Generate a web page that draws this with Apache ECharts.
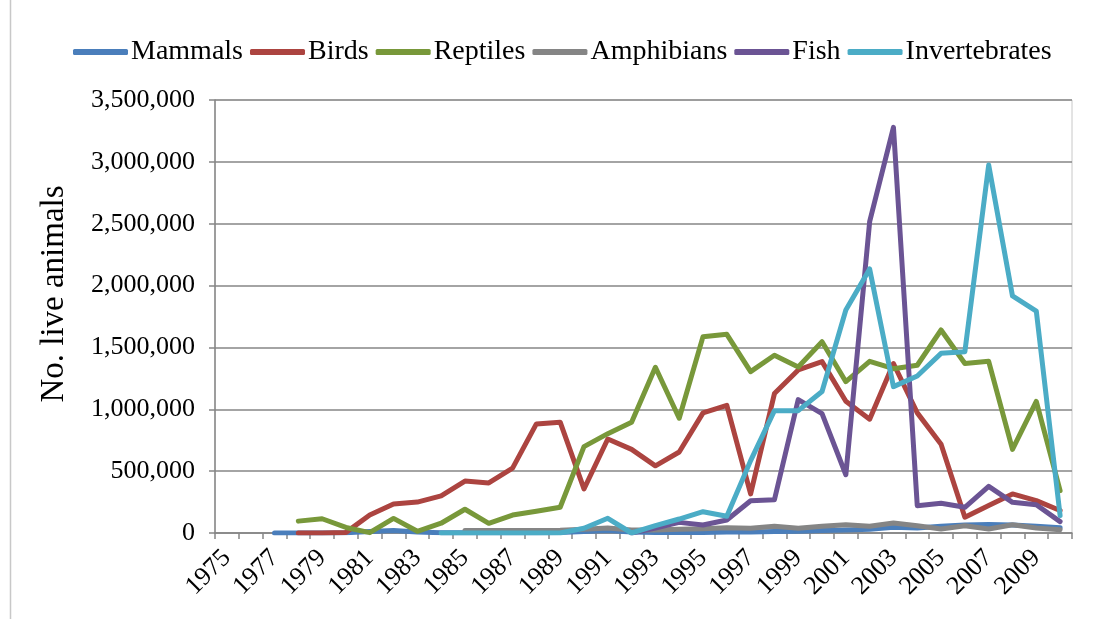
<!DOCTYPE html>
<html>
<head>
<meta charset="utf-8">
<script src="https://cdn.jsdelivr.net/npm/echarts@6/dist/echarts.min.js"></script>
<style>
html,body{margin:0;padding:0;background:#fff;}
#main{width:1098px;height:619px;}
</style>
</head>
<body>
<div id="main"></div>
<script>
var years = [];
for (var y = 1975; y <= 2010; y++) years.push(String(y));

var mammals = [null,null,0,0,0,3000,12000,20000,8000,2000,3000,2000,3000,3000,5000,12000,20000,8000,5000,5000,5000,8000,8000,13000,15000,20000,25000,30000,46000,40000,55000,65000,68000,65000,55000,42000];
var birds = [null,null,null,0,0,5000,145000,235000,250000,300000,420000,405000,524000,882000,896000,356000,760000,676000,543000,655000,971000,1032000,316000,1127000,1318000,1385000,1065000,920000,1370000,971000,717000,128000,222000,316000,262000,182000];
var reptiles = [null,null,null,96000,115000,45000,3000,118000,14000,79000,192000,78000,145000,176000,208000,698000,803000,895000,1340000,928000,1587000,1606000,1304000,1437000,1342000,1546000,1223000,1388000,1328000,1356000,1641000,1370000,1388000,676000,1064000,342000];
var amphibians = [null,null,null,null,null,null,null,null,null,null,20000,20000,20000,20000,22000,30000,40000,25000,25000,30000,35000,42000,38000,54000,38000,54000,67000,54000,81000,59000,32000,59000,32000,67000,40000,27000];
var fish = [null,null,null,null,null,null,null,null,null,null,null,null,null,null,null,null,null,0,40000,86000,65000,105000,261000,269000,1078000,965000,471000,2516000,3279000,221000,240000,208000,377000,248000,229000,92000];
var invertebrates = [null,null,null,null,null,null,null,null,null,0,0,0,0,0,0,38000,119000,0,59000,113000,172000,135000,585000,989000,989000,1144000,1802000,2134000,1183000,1269000,1452000,1466000,2975000,1916000,1794000,142000];

var seriesNames = ['Mammals','Birds','Reptiles','Amphibians','Fish','Invertebrates'];
var seriesData = [mammals, birds, reptiles, amphibians, fish, invertebrates];
var colors = ['#4A7EBB','#AC4440','#78983A','#858585','#6B5494','#4BACC6'];

var FONT = '"Liberation Serif", "DejaVu Serif", serif';

var chart = echarts.init(document.getElementById('main'), null, {renderer:'canvas'});
var series = seriesNames.map(function(n, i){
  return {
    name: n,
    type: 'line',
    data: seriesData[i],
    showSymbol: false,
    symbol: 'none',
    connectNulls: false,
    animation: false,
    lineStyle: {width: 5, color: colors[i], cap: 'round', join: 'round'},
    itemStyle: {color: colors[i]}
  };
});

chart.setOption({
  animation: false,
  color: colors,
  grid: {left: 215, right: 26, top: 100, bottom: 86, show: true, borderColor: '#C8C8C8', borderWidth: 1},
  legend: {
    data: seriesNames,
    top: 33,
    left: 68,
    itemWidth: 55,
    itemHeight: 6,
    itemGap: 7,
    icon: 'roundRect',
    textStyle: {fontFamily: FONT, fontSize: 28, color: '#000', padding: [0,0,0,-2]}
  },
  xAxis: {
    type: 'category',
    data: years,
    boundaryGap: true,
    axisLine: {lineStyle: {color: '#868686', width: 1.5}},
    axisTick: {show: true, interval: 0, length: 6, lineStyle: {color: '#868686', width: 1.5}},
    axisLabel: {interval: 1, rotate: 45, margin: 21, fontFamily: FONT, fontSize: 26, color: '#000'},
    splitLine: {show: false}
  },
  yAxis: {
    type: 'value',
    min: 0,
    max: 3500000,
    interval: 500000,
    axisLine: {show: true, lineStyle: {color: '#868686', width: 1.5}},
    axisTick: {show: true, length: 6, lineStyle: {color: '#868686', width: 1.5}},
    axisLabel: {
      margin: 20, fontFamily: FONT, fontSize: 26, color: '#000',
      formatter: function(v){ return v.toString().replace(/\B(?=(\d{3})+(?!\d))/g, ','); }
    },
    splitLine: {show: true, lineStyle: {color: '#868686', width: 1.5}}
  },
  graphic: [
    {type: 'line', shape: {x1: 10.5, y1: 0, x2: 10.5, y2: 619}, style: {stroke: '#C8C8C8', lineWidth: 1.5}},
    {type: 'text', x: 54, y: 294, rotation: Math.PI/2,
     style: {text: 'No. live animals', font: '33px ' + FONT, fill: '#000', textAlign: 'center', textVerticalAlign: 'middle'}}
  ],
  series: series
});
</script>
</body>
</html>
